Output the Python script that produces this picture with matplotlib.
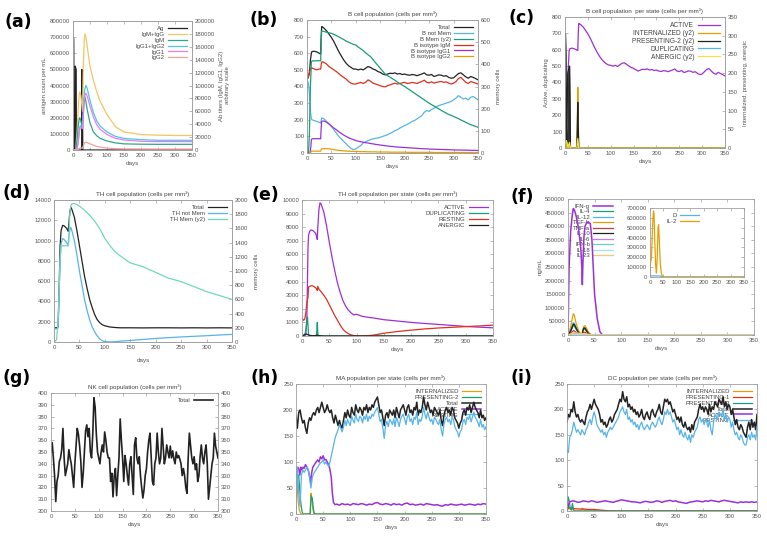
"""
Nine-panel immune simulation figure (C-ImmSim style output).
Panels (a)-(i): antigen/antibody titres, B cells, TH cells, cytokines,
NK cells, macrophages and dendritic cells over 350 days.
"""

import matplotlib.pyplot as plt
import numpy as np
from matplotlib.ticker import FormatStrFormatter

plt.rcParams["font.family"] = ["Liberation Sans", "DejaVu Sans"]

# ── (a) antigen and antibody titres ──────────────────────────────────────────
ag_days = [0, 2, 3, 6, 6.5, 9, 10, 25.5, 26, 27.5, 28.5, 350]
ag_count = [710000, 690000, 0, 0, 520000, 500000, 0, 0, 500000, 480000, 0, 0]

ab_days = [0, 8, 12, 15, 18, 20, 23, 26, 28, 30, 33, 35, 38, 42, 50, 60, 70,
           80, 100, 125, 150, 200, 250, 300, 350]
ab_igm_igg = [0, 0, 30000, 60000, 85000, 90000, 85000, 70000, 60000, 120000,
              170000, 180000, 175000, 160000, 130000, 108000, 90000, 75000,
              55000, 36000, 28000, 24000, 23000, 22500, 22500]
ab_igm = [0, 0, 15000, 35000, 48000, 50000, 45000, 38000, 35000, 60000, 80000,
          82000, 75000, 62000, 42000, 28000, 22000, 18000, 14000, 11000, 9500,
          9000, 8800, 8800, 8800]
ab_igg1_igg2 = [0, 0, 3000, 12000, 28000, 36000, 38000, 37000, 36000, 55000,
                85000, 95000, 100000, 95000, 77000, 58000, 45000, 37000, 28000,
                21000, 18000, 16000, 15000, 15000, 15000]
ab_igg1 = [0, 0, 2500, 10000, 25000, 33000, 35000, 34000, 33000, 50000, 76000,
           85000, 88000, 83000, 68000, 51000, 39000, 32000, 24000, 18000,
           15500, 13500, 13000, 13000, 13000]
ab_igg2 = [0, 0, 300, 1000, 2000, 3000, 3500, 3000, 2800, 6000, 10000, 11500,
           12000, 11500, 9500, 7500, 5500, 4500, 3000, 2200, 1800, 1600, 1500,
           1500, 1500]

# ── (b) B cell population ────────────────────────────────────────────────────
b_days = [0, 3, 5, 7, 9, 10, 15, 20, 25, 28, 29, 30, 32] + list(range(35, 351, 5))
b_total = [440, 460, 480, 560, 600, 610, 612, 608, 600, 595, 700, 760, 758,
           750, 735, 715, 695, 670, 640, 610, 585, 560, 540,
           525, 515, 505, 505, 500, 505, 500, 510, 520, 515,
           505, 500, 490, 485, 475, 470, 475, 480, 478, 482,
           475, 478, 472, 475, 470, 468, 472, 470, 465, 470,
           475, 482, 470, 468, 472, 460, 465, 470, 468, 462,
           465, 455, 450, 452, 465, 478, 482, 470, 458, 450,
           460, 455, 448, 440]
b_not_mem = [440, 420, 350, 250, 205, 200, 195, 190, 185, 180, 195, 210, 210,
             205, 190, 175, 160, 140, 120, 100, 85, 70, 55,
             40, 28, 20, 25, 35, 45, 60, 68, 75, 80,
             85, 88, 90, 95, 100, 105, 110, 118, 125, 135,
             140, 150, 158, 165, 172, 180, 190, 195, 205, 215,
             225, 245, 255, 250, 262, 270, 280, 285, 290, 295,
             300, 305, 310, 320, 330, 345, 335, 325, 330, 320,
             335, 340, 330, 320]
b_mem_y2 = [0, 0, 90, 300, 410, 415, 416, 416, 416, 416, 500, 550, 550,
            548, 545, 542, 540, 535, 530, 524, 518, 512, 505,
            500, 495, 490, 487, 478, 470, 462, 452, 443, 435,
            422, 408, 395, 382, 369, 356, 349, 342, 335, 328,
            320, 313, 306, 300, 292, 285, 277, 270, 262, 255,
            247, 240, 232, 225, 218, 212, 205, 199, 192, 186,
            180, 174, 170, 165, 160, 155, 149, 144, 138, 133,
            128, 124, 120, 116]
b_igm = [440, 460, 490, 505, 510, 512, 505, 500, 505, 505, 530, 548, 548,
         545, 535, 520, 510, 500, 490, 478, 465, 455, 445,
         430, 420, 415, 415, 420, 425, 418, 425, 440, 432,
         420, 415, 410, 405, 400, 398, 405, 410, 415, 420,
         415, 418, 422, 425, 418, 420, 425, 422, 418, 425,
         430, 438, 425, 422, 428, 420, 425, 428, 430, 425,
         428, 420, 415, 420, 430, 448, 455, 440, 425, 418,
         430, 425, 420, 415]
b_igg1 = [0, 0, 0, 10, 80, 85, 86, 86, 86, 86, 150, 190, 192,
          192, 185, 175, 162, 150, 140, 128, 118, 108, 100,
          92, 86, 80, 75, 71, 68, 65, 62, 60, 57,
          55, 52, 50, 48, 46, 44, 42, 40, 39, 37,
          36, 35, 34, 33, 32, 31, 30, 29, 28, 27,
          26, 25, 25, 24, 23, 23, 22, 22, 21, 21,
          20, 20, 19, 19, 18, 18, 18, 17, 17, 17,
          16, 16, 16, 15]
b_igg2 = [0, 0, 0, 2, 10, 11, 11, 11, 11, 11, 20, 25, 26,
          26, 26, 25, 23, 20, 18, 16, 14, 13, 12,
          11, 10, 10, 9, 9, 8, 8, 8, 7, 7,
          7, 7, 6, 6, 6, 6, 6, 5, 5, 5,
          5, 5, 5, 5, 4, 4, 4, 4, 4, 4,
          4, 4, 4, 4, 4, 3, 3, 3, 3, 3,
          3, 3, 3, 3, 3, 3, 3, 3, 3, 3,
          3, 3, 3, 3]

# ── (c) B cell population per state ──────────────────────────────────────────
c_active = [20, 150, 350, 480, 590, 605, 610, 606, 600, 595, 700, 760, 758,
            752, 738, 718, 697, 672, 642, 612, 586, 562, 542,
            527, 515, 507, 505, 500, 505, 498, 508, 518, 520,
            510, 500, 492, 486, 478, 470, 476, 481, 479, 483,
            476, 479, 473, 476, 470, 467, 472, 471, 466, 471,
            476, 483, 470, 467, 473, 461, 465, 471, 469, 462,
            466, 455, 448, 452, 466, 480, 485, 470, 457, 450,
            462, 455, 448, 440]
pres_days = [0, 1, 2, 3, 4, 5, 6, 7, 8, 9, 10, 11, 12, 26, 27, 28, 29, 30, 350]
pres2_y2 = [0, 306, 250, 60, 20, 130, 200, 205, 210, 215, 219, 120, 0, 0, 60,
            122, 60, 0, 0]
intern_days = [0, 1, 2, 3, 4, 26, 27, 28, 29, 30, 350]
intern_y2 = [100, 80, 20, 5, 0, 0, 80, 162, 80, 0, 0]
dup_days = [0, 2, 4, 26, 27, 28, 29, 30, 350]
dup_cells = [0, 30, 0, 0, 60, 140, 50, 0, 0]
anerg_days = [0, 1, 3, 5, 8, 10, 12, 26, 28, 30, 350]
anerg_y2 = [0, 15, 20, 10, 8, 15, 0, 0, 25, 0, 0]

# ── (d) TH cell population ───────────────────────────────────────────────────
d_days = [0, 5, 8, 10, 12, 14, 17, 20, 25, 28, 29, 31, 33, 35, 40, 45, 50, 55,
          60, 65, 70, 75, 80, 85, 90, 95, 100, 110, 120, 130, 150, 175, 200,
          225, 250, 275, 300, 325, 350]
th_total = [1400, 1400, 1500, 5000, 9500, 11000, 11500, 11450, 11200, 10900,
            11500, 12800, 13300, 13100, 12300, 11000, 9500, 8000, 6500, 5300,
            4200, 3400, 2700, 2200, 1900, 1700, 1600, 1480, 1430, 1400,
            1400, 1390, 1400, 1400, 1390, 1400, 1390, 1400, 1390]
th_not_mem = [1300, 1300, 1400, 4500, 8200, 9700, 10200, 10100, 9800, 9500,
              10300, 11000, 11300, 11000, 10000, 8600, 7000, 5600, 4200, 3100,
              2200, 1500, 1000, 600, 300, 120, 40, 10, 30, 80,
              150, 250, 350, 430, 500, 560, 620, 690, 750]
th_mem_y2 = [0, 30, 290, 710, 1150, 1350, 1355, 1355, 1355, 1355,
             1420, 1800, 1920, 1945, 1950, 1936, 1914, 1886, 1857, 1821,
             1786, 1743, 1700, 1650, 1593, 1529, 1457, 1357, 1271, 1214,
             1114, 1060, 980, 900, 850, 780, 710, 655, 600]

# ── (e) TH cell population per state ─────────────────────────────────────────
e_days = [0, 3, 5, 7, 9, 10, 11, 12, 14, 17, 20, 25, 27, 28, 29, 31, 33, 35,
          40, 45, 50, 55, 60, 65, 70, 75, 80, 85, 90, 95, 100, 110, 120, 130,
          150, 175, 200, 225, 250, 275, 300, 325, 350]
th_active = [0, 0, 0, 100, 1500, 4000, 6500, 7400, 7700, 7800,
             7750, 7550, 7300, 7100, 8000, 9300, 9800, 9700, 9100, 8100,
             6900, 5800, 4800, 3900, 3200, 2600, 2200, 1900, 1700, 1550,
             1600, 1450, 1380, 1330, 1200, 1100, 1000, 920, 850, 780,
             700, 650, 600]
th_resting = [1300, 1150, 1250, 1700, 2500, 2700, 2800, 3600, 3650, 3700,
              3680, 3550, 3450, 3350, 3650, 3450, 3350, 3250, 3000, 2700,
              2300, 1900, 1500, 1150, 800, 500, 300, 170, 80, 30,
              10, 0, 20, 60, 200, 330, 430, 520, 590, 640,
              690, 740, 800]
th_dup_days = [0, 5, 7, 9, 10, 11, 12, 14, 26, 27, 28, 29, 30, 350]
th_dup = [0, 100, 400, 1000, 1400, 800, 100, 0, 0, 300, 1000, 200, 0, 0]
th_anerg_days = [0, 3, 5, 8, 10, 14, 20, 27, 28, 30, 40, 350]
th_anerg = [0, 50, 100, 150, 100, 50, 20, 30, 80, 30, 0, 0]

# ── (f) cytokines ────────────────────────────────────────────────────────────
f_days = [0, 2, 5, 8, 10, 12, 15, 20, 24, 26, 27, 28, 30, 32, 35, 38, 42, 45,
          48, 50, 55, 60, 65, 70, 350]
ifn_g = [0, 250000, 380000, 440000, 465000, 460000, 440000, 390000, 320000,
         250000, 185000, 260000, 360000, 400000, 412000, 415000, 410000,
         350000, 230000, 150000, 60000, 12000, 0, 0, 0]
tgf_b = [0, 10000, 30000, 60000, 78000, 72000, 45000, 15000, 5000, 3000, 8000,
         20000, 33000, 34000, 25000, 12000, 3000, 1000, 0, 0, 0, 0, 0, 0, 0]
il_12 = [15000, 10000, 20000, 35000, 45000, 43000, 30000, 10000, 4000, 2000,
         6000, 18000, 28000, 27000, 18000, 8000, 2000, 500, 0, 0, 0, 0, 0, 0, 0]
il_10 = [0, 5000, 15000, 30000, 40000, 38000, 26000, 8000, 3000, 1500, 5000,
         16000, 26000, 25000, 16000, 7000, 1500, 300, 0, 0, 0, 0, 0, 0, 0]
il_4 = [0, 4000, 12000, 25000, 35000, 33000, 22000, 7000, 2500, 1000, 4000,
        13000, 22000, 21000, 13000, 6000, 1200, 200, 0, 0, 0, 0, 0, 0, 0]
tnf_a = [0, 2000, 6000, 12000, 16000, 15000, 10000, 3000, 1000, 500, 2000,
         6000, 10000, 10000, 6000, 3000, 500, 0, 0, 0, 0, 0, 0, 0, 0]
minor_days = [0, 10, 30, 50, 350]
il_6 = [0, 6000, 4000, 0, 0]
ifn_b = [0, 3000, 2000, 0, 0]
il_18 = [0, 2000, 1500, 0, 0]
il_23 = [0, 8000, 5000, 0, 0]

inset_days = [0, 2, 5, 8, 11, 13, 15, 18, 21, 24, 27, 30, 32, 35, 38, 42, 47,
              50, 350]
il_2 = [0, 150000, 180000, 400000, 600000, 670000, 640000, 350000, 120000,
        40000, 200000, 500000, 530000, 350000, 150000, 40000, 5000, 0, 0]
d_signal_days = [0, 40, 45, 350]
d_signal = [12000, 10000, 0, 0]

# ── (g), (h), (i) noisy populations, sampled every 2.5 days ──────────────────
noise_days = np.arange(0, 350.1, 2.5)

nk_total = [350, 358, 345, 330, 308, 325, 330, 342, 345, 352,
            370, 345, 330, 335, 340, 352, 345, 340, 330, 320,
            340, 355, 370, 365, 355, 342, 320, 332, 350, 368,
            373, 363, 370, 350, 345, 365, 396, 388, 365, 350,
            345, 340, 350, 356, 350, 367, 360, 350, 345, 345,
            325, 332, 312, 330, 336, 313, 330, 345, 378, 360,
            345, 325, 347, 340, 330, 322, 340, 346, 330, 314,
            356, 362, 345, 340, 346, 330, 320, 311, 318, 330,
            336, 350, 360, 366, 345, 325, 322, 340, 345, 366,
            350, 340, 345, 370, 355, 340, 345, 356, 350, 345,
            355, 345, 351, 344, 340, 350, 345, 347, 344, 340,
            330, 336, 330, 320, 315, 345, 366, 355, 345, 340,
            346, 335, 340, 325, 330, 346, 356, 345, 340, 350,
            356, 340, 310, 320, 330, 340, 345, 366, 355, 350,
            345]

ma_total = [190, 165, 195, 200, 185, 175, 180, 165, 155, 175,
            185, 180, 190, 195, 190, 200, 205, 195, 205, 215,
            205, 195, 200, 210, 200, 195, 200, 185, 175, 190,
            180, 170, 180, 170, 165, 180, 195, 185, 200, 190,
            185, 205, 195, 190, 210, 200, 195, 205, 200, 190,
            205, 200, 210, 195, 205, 200, 210, 205, 215, 220,
            225, 210, 195, 200, 185, 170, 190, 195, 185, 200,
            195, 190, 200, 185, 205, 195, 185, 200, 205, 210,
            200, 190, 205, 210, 195, 200, 190, 205, 200, 215,
            190, 200, 195, 205, 225, 210, 200, 215, 205, 195,
            200, 190, 205, 200, 195, 190, 200, 180, 170, 190,
            200, 205, 195, 200, 190, 205, 200, 185, 180, 175,
            165, 175, 180, 195, 200, 190, 205, 200, 210, 195,
            205, 215, 205, 200, 195, 185, 200, 185, 190, 180,
            185]
ma_resting = [5, 90, 40, 15, 75, 85, 80, 85, 90, 85,
              70, 50, 70, 78, 82, 86, 90, 95, 98, 100,
              104, 96, 100, 95, 92, 100, 112, 124, 135, 148,
              155, 162, 172, 165, 158, 168, 180, 170, 182, 175,
              170, 188, 180, 175, 192, 182, 178, 188, 185, 175,
              188, 182, 192, 178, 188, 183, 192, 188, 196, 200,
              205, 192, 178, 182, 165, 145, 170, 178, 168, 182,
              178, 172, 183, 168, 186, 178, 168, 182, 188, 192,
              183, 172, 186, 192, 178, 183, 172, 186, 182, 196,
              172, 182, 178, 188, 205, 192, 183, 196, 186, 178,
              182, 172, 186, 182, 176, 172, 182, 162, 150, 172,
              182, 186, 177, 182, 172, 186, 182, 168, 162, 158,
              148, 158, 162, 177, 182, 172, 186, 182, 190, 177,
              186, 196, 186, 182, 176, 168, 182, 167, 172, 162,
              168]
ma_active_days = [0, 1.5, 3, 5, 7, 9, 11, 13, 15, 17.5, 20, 22.5, 25, 27, 29,
                  31, 34, 37, 40, 42.5, 45, 47.5, 50, 52.5, 55, 57.5, 60, 62.5,
                  65, 67, 69, 72, 75] + list(range(80, 351, 5))
ma_active = [0, 85, 90, 88, 75, 90, 85, 90, 88, 95, 90, 85, 72, 60, 80,
             90, 95, 100, 104, 100, 110, 106, 112, 104, 105, 100, 95, 86,
             70, 40, 22, 18, 19,
             17, 20, 18, 19, 17,
             20, 19, 18, 20, 19, 17, 19, 18, 21, 22,
             19, 18, 20, 19, 17, 20, 18, 19, 17, 20,
             21, 18, 19, 17, 18, 19, 17, 20, 19, 18,
             17, 18, 16, 15, 18, 17, 19, 18, 17, 18,
             19, 17, 18, 19, 18, 17, 19, 18, 20, 19]
ma_intern_days = [0, 2, 4, 6, 8, 10, 26, 27.5, 29, 31, 33, 350]
ma_intern = [90, 60, 25, 8, 2, 0, 0, 40, 30, 10, 0, 0]
ma_pres_days = [0, 1, 3, 5, 7, 9, 11, 13, 26, 28, 30, 32, 34, 350]
ma_pres2 = [0, 82, 70, 75, 45, 20, 5, 0, 0, 35, 30, 10, 0, 0]

dc_total = [175, 190, 185, 200, 195, 215, 195, 185, 190, 180,
            175, 180, 175, 170, 185, 195, 200, 210, 200, 210,
            220, 210, 205, 200, 190, 175, 180, 170, 175, 165,
            170, 180, 185, 175, 180, 190, 195, 200, 210, 220,
            215, 235, 220, 215, 225, 205, 210, 200, 205, 195,
            200, 190, 195, 185, 190, 200, 185, 180, 190, 195,
            185, 180, 195, 200, 190, 185, 195, 200, 210, 195,
            190, 205, 220, 215, 220, 210, 215, 205, 195, 200,
            190, 180, 185, 175, 185, 170, 165, 175, 165, 160,
            165, 155, 170, 160, 175, 180, 185, 200, 210, 200,
            205, 195, 205, 200, 190, 210, 195, 205, 200, 215,
            210, 205, 220, 215, 210, 225, 205, 215, 200, 210,
            205, 190, 200, 185, 170, 180, 165, 160, 170, 165,
            155, 150, 145, 165, 175, 160, 180, 165, 175, 160,
            190]
dc_resting = [120, 115, 145, 150, 160, 175, 165, 155, 160, 155,
              150, 160, 155, 150, 160, 165, 175, 180, 170, 185,
              195, 185, 170, 165, 160, 155, 160, 150, 155, 145,
              155, 160, 165, 160, 165, 170, 175, 180, 185, 195,
              200, 205, 195, 190, 200, 180, 185, 175, 180, 170,
              175, 165, 170, 160, 170, 175, 165, 160, 165, 170,
              165, 160, 170, 175, 170, 165, 170, 180, 185, 175,
              170, 180, 195, 190, 200, 190, 195, 185, 175, 180,
              170, 160, 165, 150, 160, 150, 145, 155, 145, 140,
              150, 135, 150, 145, 155, 160, 165, 180, 185, 175,
              180, 170, 180, 175, 165, 180, 160, 150, 175, 190,
              185, 180, 195, 190, 185, 200, 180, 190, 175, 185,
              180, 165, 175, 160, 150, 155, 145, 140, 150, 145,
              135, 130, 130, 145, 150, 140, 155, 145, 150, 140,
              165]
dc_active_days = [0, 2.5] + list(range(5, 351, 5))
dc_active = [0, 12, 18, 20, 19, 17, 18, 20, 19, 18,
             20, 19, 17, 18, 19, 20, 19, 18, 17, 19,
             20, 22, 21, 20, 19, 18, 18, 17, 16, 18,
             19, 18, 17, 18, 20, 19, 17, 19, 20, 21,
             19, 20, 18, 17, 16, 15, 17, 18, 19, 20,
             19, 18, 20, 19, 21, 20, 19, 18, 20, 21,
             20, 19, 18, 17, 16, 18, 17, 18, 17, 18,
             17, 18]
dc_intern_days = [0, 2, 4, 6, 8, 10, 12, 25, 28, 31, 35, 350]
dc_intern = [0, 10, 5, 3, 2, 5, 0, 0, 5, 2, 0, 0]
dc_pres1_days = [0, 3, 6, 10, 20, 30, 40, 50, 60, 70, 80, 350]
dc_pres1 = [0, 8, 6, 5, 4, 4, 3, 3, 2, 1, 0, 0]
dc_pres2_days = [0, 2, 4, 6, 8, 10, 12, 14, 16, 350]
dc_pres2 = [0, 28, 20, 5, 2, 15, 3, 0, 0, 0]


# ── colours (gnuplot-like palette) ───────────────────────────────────────────
BLACK = "#222222"
PURPLE = "#9b30d9"
GREEN = "#1a9e77"
BLUE = "#56b4e9"
ORANGE = "#e69f00"
RED = "#e0301e"
YELLOW = "#f0e442"
GREY_TXT = "#555555"
SPINE = "#a0a0a0"

W, H = 767, 538
fig = plt.figure(figsize=(W / 100, H / 100), dpi=100)


def box(left, right, top, bottom):
    # axes placed in pixel coordinates of the 767x538 canvas
    return fig.add_axes([left / W, 1 - bottom / H, (right - left) / W, (bottom - top) / H])


def frame(ax, right=True, labelright=False):
    for s in ax.spines.values():
        s.set_color(SPINE)
        s.set_linewidth(0.6)
    ax.tick_params(direction="in", length=2.5, width=0.5, color=SPINE,
                   labelcolor=GREY_TXT, labelsize=4.3, pad=2,
                   top=True, right=right, labelright=labelright)
    ax.set_xlim(0, 350)
    ax.set_xticks(np.arange(0, 351, 50))
    ax.yaxis.set_major_formatter(FormatStrFormatter("%d"))


def twin(ax):
    ax.tick_params(right=False)
    ax2 = ax.twinx()
    frame(ax2, right=True, labelright=True)
    ax2.tick_params(left=False)
    return ax2


def gp_legend(ax, handles, fontsize=4.3, spacing=0.12, **kw):
    # gnuplot style key: text right-aligned, sample line on the right
    leg = ax.legend(handles=handles, markerfirst=False, frameon=False,
                    fontsize=fontsize, handlelength=3.2, handletextpad=0.6,
                    labelspacing=spacing, borderaxespad=0.4, **kw)
    for col in leg._legend_handle_box.get_children():
        col.align = "right"
    for t in leg.get_texts():
        t.set_color("#444444")
    return leg


def label(ax, title=None, xlabel="days", ylabel=None, xpad=2):
    if title:
        ax.set_title(title, fontsize=4.5, color="#444444", pad=3)
    if xlabel:
        ax.set_xlabel(xlabel, fontsize=4.5, color=GREY_TXT, labelpad=xpad)
    if ylabel:
        ax.set_ylabel(ylabel, fontsize=4.3, color=GREY_TXT, labelpad=2)


def panel_tag(x, y, text):
    fig.text(x / W, 1 - y / H, text, fontsize=12.5, fontweight="bold",
             family="DejaVu Sans", va="center", ha="left")


LW = 0.9

# ── panel (a) ────────────────────────────────────────────────────────────────
ax = box(73, 192, 21, 150)
frame(ax)
ax2 = twin(ax)
ax.fill_between(ag_days, ag_count, color="#7a7a7a", lw=0)
h_ag, = ax.plot(ag_days, ag_count, color=BLACK, lw=LW, label="Ag")
h1, = ax2.plot(ab_days, ab_igm_igg, color="#f5c464", lw=LW, label="IgM+IgG")
h2, = ax2.plot(ab_days, ab_igm, color="#2aa88a", lw=LW, label="IgM")
h3, = ax2.plot(ab_days, ab_igg1_igg2, color="#4fc4ea", lw=LW, label="IgG1+IgG2")
h4, = ax2.plot(ab_days, ab_igg1, color="#e47cf5", lw=LW, label="IgG1")
h5, = ax2.plot(ab_days, ab_igg2, color="#f2a39c", lw=LW, label="IgG2")
ax.set_ylim(0, 800000)
ax.set_yticks(np.arange(0, 800001, 100000))
ax2.set_ylim(0, 200000)
ax2.set_yticks(np.arange(0, 200001, 20000))
label(ax, ylabel="antigen count per mL")
ax2.set_ylabel("Ab titers (IgM, IgG1, IgG2)\narbitrary scale", fontsize=4.3,
               color=GREY_TXT, labelpad=3)
gp_legend(ax2, [h_ag, h1, h2, h3, h4, h5], loc="upper right")
panel_tag(4, 22, "(a)")

# ── panel (b) ────────────────────────────────────────────────────────────────
ax = box(307, 478, 20, 153)
frame(ax)
ax2 = twin(ax)
hs = [ax.plot(b_days, b_total, color=BLACK, lw=LW, label="Total")[0],
      ax.plot(b_days, b_not_mem, color=BLUE, lw=LW, label="B not Mem")[0],
      ax2.plot(b_days, b_mem_y2, color=GREEN, lw=LW, label="B Mem (y2)")[0],
      ax.plot(b_days, b_igm, color=RED, lw=LW, label="B isotype IgM")[0],
      ax.plot(b_days, b_igg1, color=PURPLE, lw=LW, label="B isotype IgG1")[0],
      ax.plot(b_days, b_igg2, color=ORANGE, lw=LW, label="B isotype IgG2")[0]]
ax.set_ylim(0, 800)
ax.set_yticks(np.arange(0, 801, 100))
ax2.set_ylim(0, 600)
ax2.set_yticks(np.arange(0, 601, 100))
label(ax, title="B cell population (cells per mm³)")
ax2.set_ylabel("memory cells", fontsize=4.3, color=GREY_TXT, labelpad=4)
gp_legend(ax2, hs, loc="upper right")
panel_tag(249, 20, "(b)")

# ── panel (c) ────────────────────────────────────────────────────────────────
ax = box(565, 725, 17, 148)
frame(ax)
ax2 = twin(ax)
ax2.fill_between(pres_days, pres2_y2, color="#333333", lw=0)
ax2.fill_between(intern_days, intern_y2, color=ORANGE, lw=0, alpha=0.8)
ax.fill_between(dup_days, dup_cells, color=BLUE, lw=0)
ax2.fill_between(anerg_days, anerg_y2, color=YELLOW, lw=0)
hs = [ax.plot(b_days, c_active, color=PURPLE, lw=LW, label="ACTIVE")[0],
      ax2.plot(intern_days, intern_y2, color=ORANGE, lw=LW, label="INTERNALIZED (y2)")[0],
      ax2.plot(pres_days, pres2_y2, color=BLACK, lw=LW, label="PRESENTING-2 (y2)")[0],
      ax.plot(dup_days, dup_cells, color=BLUE, lw=LW, label="DUPLICATING")[0],
      ax2.plot(anerg_days, anerg_y2, color=YELLOW, lw=LW, label="ANERGIC (y2)")[0]]
ax.set_ylim(0, 800)
ax.set_yticks(np.arange(0, 801, 100))
ax2.set_ylim(0, 350)
ax2.set_yticks(np.arange(0, 351, 50))
label(ax, title="B cell population  per state (cells per mm³)",
      ylabel="Active, duplicating")
ax2.set_ylabel("Internalized, presenting, anergic", fontsize=4.3,
               color=GREY_TXT, labelpad=4)
gp_legend(ax2, hs, loc="upper right", fontsize=4.8)
panel_tag(508, 18, "(c)")

# ── panel (d) ────────────────────────────────────────────────────────────────
ax = box(54, 232, 200, 342)
frame(ax)
ax2 = twin(ax)
hs = [ax.plot(d_days, th_total, color=BLACK, lw=LW, label="Total")[0],
      ax.plot(d_days, th_not_mem, color=BLUE, lw=LW, label="TH not Mem")[0],
      ax2.plot(d_days, th_mem_y2, color="#6fd8bb", lw=LW, label="TH Mem (y2)")[0]]
ax.set_ylim(0, 14000)
ax.set_yticks(np.arange(0, 14001, 2000))
ax2.set_ylim(0, 2000)
ax2.set_yticks(np.arange(0, 2001, 200))
label(ax, title="TH cell population (cells per mm³)", xpad=6)
ax2.set_ylabel("memory cells", fontsize=4.3, color=GREY_TXT, labelpad=4)
gp_legend(ax2, hs, loc="upper right")
panel_tag(3, 193, "(d)")

# ── panel (e) ────────────────────────────────────────────────────────────────
ax = box(302, 493, 200, 336)
frame(ax)
hs = [ax.plot(e_days, th_active, color=PURPLE, lw=LW, label="ACTIVE")[0],
      ax.plot(th_dup_days, th_dup, color=GREEN, lw=LW, label="DUPLICATING")[0],
      ax.plot(e_days, th_resting, color=RED, lw=LW, label="RESTING")[0],
      ax.plot(th_anerg_days, th_anerg, color=BLACK, lw=LW, label="ANERGIC")[0]]
ax.set_ylim(0, 10000)
ax.set_yticks(np.arange(0, 10001, 1000))
label(ax, title="TH cell population per state (cells per mm³)")
gp_legend(ax, hs, loc="upper right")
panel_tag(251, 195, "(e)")

# ── panel (f) ────────────────────────────────────────────────────────────────
ax = box(568, 754, 199, 335)
frame(ax)
hs = [ax.plot(f_days, ifn_g, color=PURPLE, lw=1.1, label="IFN-g")[0],
      ax.plot(f_days, il_4, color=GREEN, lw=LW, label="IL-4")[0],
      ax.plot(f_days, il_12, color=BLUE, lw=LW, label="IL-12")[0],
      ax.plot(f_days, tgf_b, color=ORANGE, lw=LW, label="TGF-b")[0],
      ax.plot(f_days, tnf_a, color="#b5443a", lw=LW, label="TNF-a")[0],
      ax.plot(f_days, il_10, color=BLACK, lw=LW, label="IL-10")[0],
      ax.plot(minor_days, il_6, color="#c27ef0", lw=LW, label="IL-6")[0],
      ax.plot(minor_days, ifn_b, color="#66d3c0", lw=LW, label="IFN-b")[0],
      ax.plot(minor_days, il_18, color="#a8dcf2", lw=LW, label="IL-18")[0],
      ax.plot(minor_days, il_23, color="#f6c870", lw=LW, label="IL-23")[0]]
ax.set_ylim(0, 500000)
ax.set_yticks(np.arange(0, 500001, 50000))
label(ax, ylabel="ng/mL")
leg = gp_legend(ax, hs, spacing=0.05, loc="upper left",
                bbox_to_anchor=(0.0, 1.0))
leg.set_zorder(1)

axi = box(650, 744, 208, 277)
frame(axi)
hi = [axi.plot(d_signal_days, d_signal, color=BLUE, lw=LW, label="D")[0],
      axi.plot(inset_days, il_2, color=ORANGE, lw=LW, label="IL-2")[0]]
axi.set_ylim(0, 700000)
axi.set_yticks(np.arange(0, 700001, 100000))
gp_legend(axi, hi, loc="upper left", bbox_to_anchor=(0.12, 1.0))
panel_tag(510, 197, "(f)")

# ── panel (g) ────────────────────────────────────────────────────────────────
ax = box(51, 218, 393, 511)
frame(ax, labelright=True)
hs = [ax.plot(noise_days, nk_total, color=BLACK, lw=1.2, label="Total")[0]]
ax.set_ylim(300, 400)
ax.set_yticks(np.arange(300, 401, 10))
label(ax, title="NK cell population (cells per mm³)")
gp_legend(ax, hs, loc="upper right")
panel_tag(3, 378, "(g)")

# ── panel (h) ────────────────────────────────────────────────────────────────
ax = box(296, 486, 384, 514)
frame(ax)
hs = [ax.plot(ma_intern_days, ma_intern, color=ORANGE, lw=LW, label="INTERNALIZED")[0],
      ax.plot(ma_pres_days, ma_pres2, color=GREEN, lw=LW, label="PRESENTING-2")[0],
      ax.plot(noise_days, ma_total, color=BLACK, lw=1.1, label="Total")[0],
      ax.plot(ma_active_days, ma_active, color=PURPLE, lw=1.1, label="ACTIVE")[0],
      ax.plot(noise_days, ma_resting, color=BLUE, lw=LW, label="RESTING")[0]]
ax.set_ylim(0, 250)
ax.set_yticks(np.arange(0, 251, 50))
label(ax, title="MA population per state (cells per mm³)")
leg = gp_legend(ax, hs, loc="upper right")
leg.set_zorder(1)
panel_tag(250, 378, "(h)")

# ── panel (i) ────────────────────────────────────────────────────────────────
ax = box(567, 757, 384, 511)
frame(ax)
hs = [ax.plot(dc_intern_days, dc_intern, color=ORANGE, lw=LW, label="INTERNALIZED")[0],
      ax.plot(dc_pres1_days, dc_pres1, color=RED, lw=LW, label="PRESENTING-1")[0],
      ax.plot(dc_pres2_days, dc_pres2, color=GREEN, lw=LW, label="PRESENTING-2")[0],
      ax.plot(noise_days, dc_total, color=BLACK, lw=1.1, label="Total")[0],
      ax.plot(dc_active_days, dc_active, color=PURPLE, lw=1.1, label="ACTIVE")[0],
      ax.plot(noise_days, dc_resting, color=BLUE, lw=LW, label="RESTING")[0]]
ax.set_ylim(0, 250)
ax.set_yticks(np.arange(0, 251, 50))
label(ax, title="DC population per state (cells per mm³)")
leg = gp_legend(ax, hs, loc="upper right")
leg.set_zorder(1)
panel_tag(510, 378, "(i)")

fig.savefig("out.png", dpi=100)
